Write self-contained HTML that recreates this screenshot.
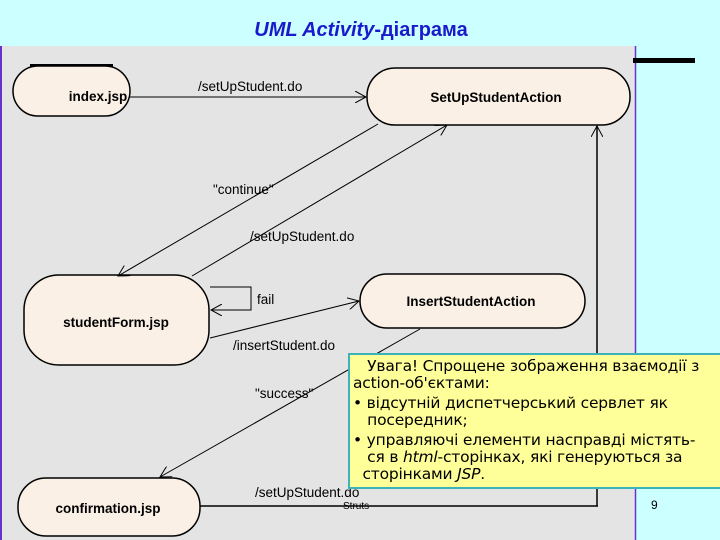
<!DOCTYPE html>
<html><head><meta charset="utf-8"><style>
body{margin:0;width:720px;height:540px;overflow:hidden;background:#ccffff;position:relative;font-family:"Liberation Sans","DejaVu Sans",sans-serif}
.title{position:absolute;left:0;top:19px;width:722px;text-align:center;font-size:20px;font-weight:bold;color:#1a1acc;}
.title i{font-style:italic}
.note{position:absolute;left:348px;top:353px;width:368px;height:129px;background:#ffff99;border:2px solid #3bb3b8;font-family:"DejaVu Sans",sans-serif;font-size:15.5px;line-height:17px;color:#000;padding:3px 0 0 3px;box-sizing:content-box;letter-spacing:-0.2px;overflow:hidden}
.note p{margin:0 0 3px 0}
</style></head><body>
<div class="title"><i>UML Activity</i>-діаграма</div>
<svg width="720" height="540" style="position:absolute;left:0;top:0">
<defs><marker id="a" markerWidth="12" markerHeight="12" refX="11" refY="6" orient="auto" markerUnits="userSpaceOnUse"><path d="M0,0 L11,6 L0,12" fill="none" stroke="#000" stroke-width="1"/></marker></defs>
<rect x="0" y="46" width="636" height="494" fill="#e4e4e4"/>
<line x1="1" y1="46" x2="1" y2="540" stroke="#6633cc" stroke-width="2"/>
<line x1="635.5" y1="46" x2="635.5" y2="540" stroke="#6633cc" stroke-width="1.5"/>
<rect x="633" y="58" width="62" height="5" fill="#000"/>
<rect x="30" y="64" width="83" height="2.5" fill="#000"/>
<g fill="#faf0e6" stroke="#000" stroke-width="1.5">
<rect x="13" y="66" width="117" height="50" rx="25"/>
<rect x="367" y="68" width="263" height="57" rx="28"/>
<rect x="24" y="275" width="185" height="90" rx="35"/>
<rect x="360" y="274" width="225" height="54" rx="27"/>
<rect x="18" y="478" width="182" height="58" rx="28"/>
</g>
<g stroke="#000" stroke-width="1" fill="none">
<line x1="130" y1="97" x2="366" y2="97" marker-end="url(#a)"/>
<line x1="378" y1="124" x2="118" y2="276" marker-end="url(#a)"/>
<line x1="192" y1="276" x2="447" y2="125" marker-end="url(#a)"/>
<polyline points="210,287 251,287 251,310 211,310" marker-end="url(#a)"/>
<line x1="210" y1="338" x2="359" y2="301" marker-end="url(#a)"/>
<line x1="420" y1="329" x2="160" y2="477" marker-end="url(#a)"/>
<line x1="200" y1="506" x2="598" y2="506" stroke-width="1.5"/>
<line x1="597" y1="506" x2="597" y2="126" stroke-width="1.5" marker-end="url(#a)"/>
</g>
<g font-family="Liberation Sans, sans-serif" font-size="13.5" fill="#000">
<text x="198" y="91">/setUpStudent.do</text>
<text x="213" y="194">"continue"</text>
<text x="250" y="241">/setUpStudent.do</text>
<text x="257" y="304">fail</text>
<text x="233" y="350">/insertStudent.do</text>
<text x="255" y="398">"success"</text>
<text x="255" y="497">/setUpStudent.do</text>
<text x="343" y="509" font-size="10">Struts</text>
<text x="651" y="509" font-size="12">9</text>
</g>
<g font-family="Liberation Sans, sans-serif" font-size="13.5" font-weight="bold" fill="#000" text-anchor="middle">
<text x="98" y="101">index.jsp</text>
<text x="496" y="102">SetUpStudentAction</text>
<text x="116" y="327">studentForm.jsp</text>
<text x="471" y="306">InsertStudentAction</text>
<text x="108" y="513">confirmation.jsp</text>
</g>
</svg>
<div class="note">
<p>&nbsp;&nbsp;&nbsp;Увага! Спрощене зображення взаємодії з<br>action-об'єктами:</p>
<p>• відсутній диспетчерський сервлет як<br>&nbsp;&nbsp;&nbsp;посередник;</p>
<p>• управляючі елементи насправді містять-<br>&nbsp;&nbsp;&nbsp;ся в <i>html</i>-сторінках, які генеруються за<br>&nbsp;&nbsp;сторінками <i>JSP</i>.</p>
</div>
</body></html>
